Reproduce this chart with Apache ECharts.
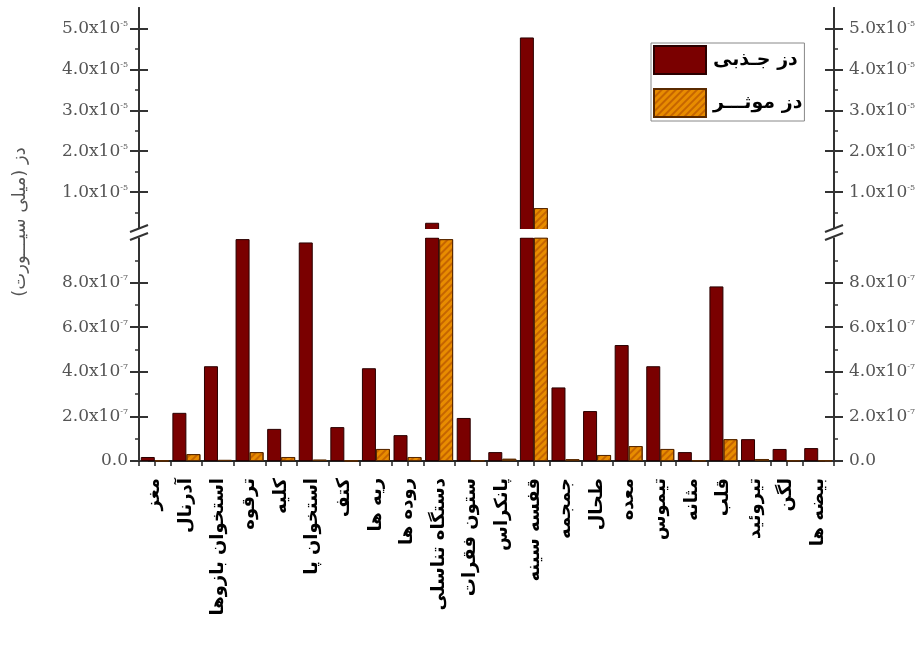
<!DOCTYPE html>
<html><head><meta charset="utf-8">
<script src="https://cdn.jsdelivr.net/npm/echarts@6/dist/echarts.min.js"></script>
<style>html,body{margin:0;padding:0;background:#fff}#c{width:921px;height:657px}</style>
</head><body><div id="c"></div>
<script>
const categories = ['مغز','آدرنال','استخوان بازوها','ترقوه','کلیه','استخوان پا','کتف','ریه ها','روده ها','دستگاه تناسلی','ستون فقرات','پانکراس','قفسه سینه','جمجمه','طحال','معده','تیموس','مثانه','قلب','تیروئید','لگن','بیضه ها'];
const absorbedDose = [1.8e-8, 2.16e-7, 4.25e-7, 9.95e-7, 1.44e-7, 9.8e-7, 1.52e-7, 4.16e-7, 1.16e-7, 2.5e-6, 1.93e-7, 4.0e-8, 4.78e-5, 3.3e-7, 2.24e-7, 5.2e-7, 4.25e-7, 4.0e-8, 7.83e-7, 9.8e-8, 5.4e-8, 5.8e-8];
const effectiveDose = [2e-9, 3.1e-8, 5e-9, 4e-8, 1.8e-8, 6e-9, 2e-9, 5.4e-8, 1.8e-8, 9.95e-7, 3e-9, 1e-8, 6.1e-6, 8e-9, 2.7e-8, 6.7e-8, 5.4e-8, 3e-9, 9.8e-8, 9e-9, 3e-9, 3e-9];
const seriesNames = ['دز جـذبی', 'دز موثـــر'];
const yTitle = 'دز (میلی سیـــورت)';
const lowerTicks = [0, 2e-7, 4e-7, 6e-7, 8e-7];
const upperTicks = [1e-5, 2e-5, 3e-5, 4e-5, 5e-5];
const breakValue = 1e-6;

const chart = echarts.init(document.getElementById('c'));
const GL = 139, GR = 87;
const lowerTop = 238, lowerH = 223;
const upperTop = 8, upperH = 225;

const rich = {
  a: {fontSize: 17, fontFamily: 'DejaVu Serif', color: '#555'},
  b: {fontSize: 8, fontFamily: 'DejaVu Serif', color: '#555', verticalAlign: 'top', padding: [0,0,8,0]}
};
function fmt(scale, exp) {
  return function (v) {
    if (v === 0) return '{a|0.0}';
    return '{a|' + (v / scale).toFixed(1) + 'x10}{b|-' + exp + '}';
  };
}
function yAxes(gridIndex, min, max, interval, ticks, scale, exp) {
  const base = {
    type: 'value', gridIndex: gridIndex, min: min, max: max, interval: interval,
    splitLine: {show: false},
    axisLine: {show: true, lineStyle: {color: '#333', width: 2}}
  };
  const outer = (pos) => Object.assign({}, base, {
    position: pos,
    axisTick: {show: true, inside: false, length: 9, lineStyle: {color: '#333', width: 2}, customValues: ticks},
    minorTick: {show: true, splitNumber: 2, length: 4, lineStyle: {color: '#333', width: 1.5}},
    axisLabel: {show: true, margin: pos === 'left' ? 11 : 15, customValues: ticks, formatter: fmt(scale, exp), rich: rich}
  });
  const inner = (pos) => Object.assign({}, base, {
    position: pos,
    axisTick: {show: true, inside: true, length: 9, lineStyle: {color: '#333', width: 2}, customValues: ticks},
    minorTick: {show: false},
    axisLabel: {show: false}
  });
  return [outer('left'), inner('left'), outer('right'), inner('right')];
}

const darkStyle = {color: '#7a0000', borderColor: '#2a0000', borderWidth: 1};
const orangeStyle = {color: '#e88c00', borderColor: '#5a2a00', borderWidth: 1,
  decal: {symbol: 'rect', symbolSize: 1, dashArrayX: [1, 0], dashArrayY: [2, 3], rotation: -Math.PI / 4, color: 'rgba(170,70,0,0.55)'}};

function bars(xi, yi, upper) {
  const pick = (arr) => upper ? arr.map(v => v > breakValue ? v : '-') : arr;
  return [
    {name: seriesNames[0], type: 'bar', xAxisIndex: xi, yAxisIndex: yi, data: pick(absorbedDose), barWidth: 14, barGap: '0%', itemStyle: darkStyle, clip: true},
    {name: seriesNames[1], type: 'bar', xAxisIndex: xi, yAxisIndex: yi, data: pick(effectiveDose), barWidth: 14, barGap: '0%', itemStyle: orangeStyle, clip: true}
  ];
}

const option = {
  backgroundColor: '#fff',
  animation: false,
  grid: [
    {left: GL, right: GR, top: lowerTop, height: lowerH},
    {left: GL, right: GR, top: upperTop, height: upperH}
  ],
  xAxis: [
    {type: 'category', gridIndex: 0, data: categories,
      axisLine: {show: true, lineStyle: {color: '#222', width: 2}},
      axisTick: {show: true, length: 5, lineStyle: {color: '#222', width: 1.5}},
      axisLabel: {rotate: 90, margin: 17, interval: 0, fontSize: 18, fontWeight: 'bold', fontFamily: 'DejaVu Sans', color: '#000'}},
    {type: 'category', gridIndex: 1, data: categories, show: false},
    {type: 'category', gridIndex: 0, data: categories, position: 'bottom',
      axisLine: {show: false}, axisLabel: {show: false},
      axisTick: {show: true, alignWithLabel: true, length: 5, lineStyle: {color: '#222', width: 1.5}}}
  ],
  yAxis: [].concat(
    yAxes(0, 0, 1e-6, 2e-7, lowerTicks, 1e-7, 7),
    yAxes(1, 0, 5.5e-5, 1e-5, upperTicks, 1e-5, 5)
  ),
  legend: {
    orient: 'vertical', left: 651, top: 43, itemWidth: 52, itemHeight: 28, itemGap: 13,
    icon: 'rect',
    padding: [2, 2, 3, 2], borderColor: '#888', borderWidth: 1,
    textStyle: {fontSize: 19, fontWeight: 'bold', fontFamily: 'DejaVu Sans', color: '#000', padding: [0, 0, 0, 2]},
    data: seriesNames
  },
  series: [].concat(bars(0, 0, false), bars(1, 4, true)),
  graphic: [
    {type: 'rect', shape: {x: 120, y: 229, width: 735, height: 8.5}, style: {fill: '#fff'}, z: 100},
    {type: 'line', shape: {x1: 130, y1: 232, x2: 148, y2: 225}, style: {stroke: '#333', lineWidth: 2}, z: 101},
    {type: 'line', shape: {x1: 130, y1: 240, x2: 148, y2: 233}, style: {stroke: '#333', lineWidth: 2}, z: 101},
    {type: 'line', shape: {x1: 825, y1: 232, x2: 843, y2: 225}, style: {stroke: '#333', lineWidth: 2}, z: 101},
    {type: 'line', shape: {x1: 825, y1: 240, x2: 843, y2: 233}, style: {stroke: '#333', lineWidth: 2}, z: 101},
    {type: 'text', x: 20, y: 222, rotation: Math.PI / 2, z: 101,
      style: {text: yTitle, fontSize: 18, fontFamily: 'DejaVu Sans', fill: '#555', align: 'center', verticalAlign: 'middle'}}
  ]
};
chart.setOption(option);
</script>
</body></html>
